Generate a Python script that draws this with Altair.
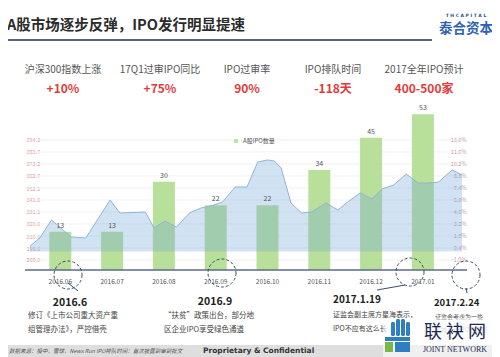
import altair as alt
import pandas as pd

CJK = "Noto Sans CJK SC"

# ---------------- data ----------------
months = ["2016.06", "2016.07", "2016.08", "2016.09", "2016.10", "2016.11", "2016.12", "2017.01"]
month_pos = [0, 1, 2, 3, 4, 5, 6, 7]
ipo_counts = [13, 13, 30, 22, 22, 34, 45, 53]
series_name = "A股IPO数量"

area_pos = [-0.585, -0.396, -0.17, 0.208, 0.491, 0.962, 1.151, 1.642, 1.811, 2.019,
            2.245, 2.491, 2.717, 2.906, 3.132, 3.377, 3.604, 3.811, 4.0, 4.132,
            4.264, 4.453, 4.66, 4.849, 5.132, 5.358, 5.547, 5.792, 6.019, 6.208,
            6.434, 6.679, 6.906, 7.113, 7.302, 7.566, 7.755]
area_pct = [0.63, 1.57, 3.67, 1.68, 1.57, 6.00, 4.48, 4.60, 2.73, 3.55,
            2.85, 4.48, 5.07, 5.30, 5.77, 7.52, 7.52, 10.43, 10.67, 10.55,
            9.73, 5.65, 4.48, 4.60, 5.65, 4.83, 5.77, 6.82, 6.12, 7.28,
            7.75, 9.03, 7.98, 7.98, 8.10, 9.50, 8.92]

left_ticks = [289.0, 299.5, 310.0, 320.6, 331.1, 341.6, 352.1, 362.7, 373.2, 383.7, 394.2]
right_ticks = [-1.0, 0.4, 1.8, 3.2, 4.6, 6.0, 7.4, 8.8, 10.2, 11.6, 13.0]

kpi_labels = ["沪深300指数上涨", "17Q1过审IPO同比", "IPO过审率", "IPO排队时间", "2017全年IPO预计"]
kpi_values = ["+10%", "+75%", "90%", "-118天", "400-500家"]

title_text = "A股市场逐步反弹，IPO发行明显提速"

# ---------------- layout (page px -> plot px) ----------------
OX, OY = 25, 110
W, H = 442, 160
X_DOM = [-0.585, 7.755]
BAR_DOM = [0, 54.42]
PCT_DOM = [-2.1667, 16.5]
LEFT_DOM = [280.23, 420.5]

bars_df = pd.DataFrame({"pos": month_pos, "month": months, "count": ipo_counts,
                        "series": [series_name] * len(months)})
area_df = pd.DataFrame({"pos": area_pos, "pct": area_pct})
grid_df = pd.DataFrame({"v": left_ticks})
one = pd.DataFrame({"k": [0]})

xs = alt.Scale(domain=X_DOM, nice=False, zero=False)
X = alt.X("pos:Q", scale=xs, axis=None)

grid = alt.Chart(grid_df).mark_rule(color="#eeeeee", strokeWidth=0.8).encode(
    y=alt.Y("v:Q", scale=alt.Scale(domain=LEFT_DOM, nice=False, zero=False),
            axis=alt.Axis(orient="left", values=left_ticks, format=".1f", labelAlign="left",
                          labelPadding=-1, ticks=False, tickSize=0, domain=False, grid=False,
                          labelColor="#e39a9a", labelFontSize=5.5, labelFont=CJK,
                          labelOverlap=False, title=None))
)

bars = alt.Chart(bars_df).mark_bar(size=22).encode(
    x=X,
    y=alt.Y("count:Q", scale=alt.Scale(domain=BAR_DOM, nice=False), axis=None),
    color=alt.Color("series:N", scale=alt.Scale(range=["#b8e09a"]),
                    legend=alt.Legend(orient="none", legendX=208, legendY=28, title=None,
                                      symbolType="square", symbolSize=14, labelFontSize=6,
                                      labelColor="#555", labelFont=CJK, padding=0,
                                      symbolStrokeWidth=0)),
)

pct_y = alt.Y("pct:Q", scale=alt.Scale(domain=PCT_DOM, nice=False, zero=False),
              axis=alt.Axis(orient="right", values=right_ticks,
                            labelExpr="format(datum.value, '.1f') + '%'",
                            labelAlign="right", labelPadding=-1, ticks=False, tickSize=0,
                            domain=False, grid=False, labelColor="#c98a9e",
                            labelFontSize=5.5, labelFont=CJK, labelOverlap=False, title=None))

area = alt.Chart(area_df).mark_area(color="#70a5da", opacity=0.32).encode(
    x=X, y=pct_y, y2=alt.value(H)
)
line = alt.Chart(area_df).mark_line(color="#93b4d8", strokeWidth=1).encode(
    x=X, y=alt.Y("pct:Q", scale=alt.Scale(domain=PCT_DOM, nice=False, zero=False), axis=None)
)

bar_labels = alt.Chart(bars_df).mark_text(dy=-6, fontSize=7, color="#555", font=CJK).encode(
    x=X,
    y=alt.Y("count:Q", scale=alt.Scale(domain=BAR_DOM, nice=False), axis=None),
    text="count:Q",
)
month_labels = alt.Chart(bars_df).mark_text(fontSize=6.5, color="#555", font=CJK).encode(
    x=X, y=alt.value(282 - OY), text="month:N"
)


def txt(s, px, py, size, color="#333", weight="normal", align="left", font=CJK, style="normal",
        opacity=1.0):
    return alt.Chart(one).mark_text(fontSize=size, color=color, fontWeight=weight, align=align,
                                    baseline="middle", font=font, fontStyle=style,
                                    opacity=opacity).encode(
        x=alt.value(px - OX), y=alt.value(py - OY), text=alt.value(s))


def rule(x1, y1, x2, y2, color="#3d4d66", width=1.0):
    return alt.Chart(one).mark_rule(color=color, strokeWidth=width).encode(
        x=alt.value(x1 - OX), x2=alt.value(x2 - OX), y=alt.value(y1 - OY), y2=alt.value(y2 - OY))


def rect(x1, y1, x2, y2, color, opacity=1.0, radius=0):
    return alt.Chart(one).mark_rect(color=color, opacity=opacity, cornerRadius=radius).encode(
        x=alt.value(x1 - OX), x2=alt.value(x2 - OX), y=alt.value(y1 - OY), y2=alt.value(y2 - OY))


def circ(px, py, d=28):
    return alt.Chart(one).mark_point(shape="circle", filled=False, size=d * d, color="#3d4d66",
                                     strokeWidth=1, strokeDash=[3, 2], opacity=1).encode(
        x=alt.value(px - OX), y=alt.value(py - OY))


deco = []
# title and header
deco.append(txt(title_text, 7, 26, 14.5, color="#2b2b2b", weight="bold"))
deco.append(rule(3, 40, 432, 40, color="#56657a", width=2))
deco.append(txt("T H   C A P I T A L", 466, 16, 4.5, color="#2b4f8a", weight="bold", align="center",
                font="DejaVu Sans"))
deco.append(txt("泰合资本", 466, 29, 13.5, color="#2d62b3", weight="bold", align="center"))

# KPIs
kpi_x = [63, 160, 247, 333, 424]
for lab, val, cx in zip(kpi_labels, kpi_values, kpi_x):
    deco.append(txt(lab, cx, 70, 10, color="#555", align="center"))
    deco.append(txt(val, cx, 89, 12, color="#e23b3b", weight="bold", align="center"))

# x baseline
deco.append(rule(25, 270, 467, 270, color="#5b6b84", width=1.3))

# dashed circles and leader lines
for cx, cy in [(68, 275), (222, 273), (410, 272), (466, 275)]:
    deco.append(circ(cx, cy))
deco.append(rule(68, 283, 78, 291))
deco.append(rule(405, 285, 377, 290))
deco.append(rule(466, 288, 467, 293))

# annotations
deco.append(txt("2016.6", 70, 303, 10.5, color="#222", weight="bold", align="center"))
deco.append(txt("修订《上市公司重大资产重", 28, 316, 7.5, color="#444"))
deco.append(txt("组管理办法》，严控借壳", 28, 330, 7.5, color="#444"))
deco.append(txt("2016.9", 215, 302, 10.5, color="#222", weight="bold", align="center"))
deco.append(txt("“扶贫”政策出台，部分地", 164, 316, 7.5, color="#444"))
deco.append(txt("区企业IPO享受绿色通道", 164, 330, 7.5, color="#444"))
deco.append(txt("2017.1.19", 333, 300, 10, color="#222", weight="bold"))
deco.append(txt("证监会副主席方星海表示，", 333, 315, 7, color="#444"))
deco.append(txt("IPO不应有这么长", 333, 329, 7, color="#444"))
deco.append(txt("2017.2.24", 434, 303, 9.5, color="#222", weight="bold"))
deco.append(txt("证监会考虑为一些", 435, 317, 6, color="#444"))
deco.append(txt("科技企业IPO开辟更", 435, 330, 6, color="#888", opacity=0.6))

# footer
deco.append(rect(8, 345, 492, 357, "#dedede"))
deco.append(txt("数据来源：投中，雪球，News Run IPO排队时间：首次披露到审到批文", 9, 351, 5.5,
                color="#555", style="italic"))
deco.append(txt("Proprietary & Confidential", 203, 351, 7.5, color="#333", weight="bold",
                font="DejaVu Sans"))

# watermark
deco.append(rect(383, 318, 492, 357, "#ffffff", opacity=0.55))
for i, h in enumerate([14, 17, 17, 14]):
    x0 = 391 + i * 5
    deco.append(rect(x0, 336 - h, x0 + 4, 336, "#2d7fc1", radius=1.5))
deco.append(rect(385, 337, 410, 341, "#2d7fc1"))
deco.append(rect(385, 342, 393, 352, "#7ab648"))
deco.append(rect(395, 342, 410, 352, "#2d7fc1"))
deco.append(txt("联 袂 网", 455, 333, 18, color="#1c2a55", align="center"))
deco.append(txt("JOINT NETWORK", 455, 350, 8, color="#1c2a55", align="center",
                font="Liberation Serif"))

chart = alt.layer(grid, bars, area, line, bar_labels, month_labels, *deco).resolve_scale(
    y="independent"
).properties(
    width=W, height=H,
    padding={"left": 17, "top": 102, "right": 25, "bottom": 87},
    autosize=alt.AutoSizeParams(type="none"),
    background="white",
).configure_view(stroke=None)

chart.save("out.html", embed_options={"renderer": "svg", "actions": False})
